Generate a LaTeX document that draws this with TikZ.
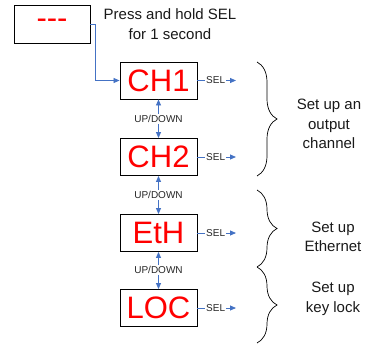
\documentclass[tikz,border=0pt]{standalone}
\usepackage{fontspec}
\setmainfont{Liberation Sans}
\usetikzlibrary{arrows.meta,decorations.pathreplacing}
\definecolor{lblue}{RGB}{68,114,196}
\definecolor{lred}{RGB}{255,0,0}
\begin{document}
\begin{tikzpicture}[x=1pt,y=-1pt,
  dispbox/.style={draw=black,line width=0.9pt,minimum width=77pt,minimum height=37pt,inner sep=0pt,
    text=lred,font=\fontsize{31}{31}\selectfont},
  conn/.style={lblue,line width=0.8pt},
  arr/.style={conn,-{Triangle[length=6pt,width=5pt]}},
  small/.style={font=\fontsize{10}{12}\selectfont,inner sep=1pt,text=black!85},
  big/.style={font=\fontsize{15}{19.5}\selectfont,align=center,text=black!90},
  brc/.style={decorate,decoration={brace,amplitude=20pt},line width=0.7pt}
  ]
\useasboundingbox (0,0) rectangle (367,345);
\node[dispbox,minimum width=76pt,minimum height=38pt] (top) at (52,24) {-{}-{}-};
\node[big] (press) at (170,24) {Press and hold SEL\\for 1 second};
\node[dispbox] (ch1) at (158.5,80.5) {CH1};
\node[dispbox] (ch2) at (158.5,157) {CH2};
\node[dispbox] (eth) at (158.5,233) {EtH};
\node[dispbox] (loc) at (158.5,308) {LOC};
\coordinate (bend1) at (95,24);
\coordinate (bend2) at (95,80.5);
\draw[conn] (top.east) -- (bend1) -- (bend2);
\draw[arr] (bend2) -- (ch1.west);
\foreach \a/\b/\y [count=\i] in {ch1/ch2/119,ch2/eth/195,eth/loc/270}{
  \node[small] (ud\i) at (158.5,\y) {UP/DOWN};
  \draw[arr] (ud\i) -- (\a);
  \draw[arr] (ud\i) -- (\b);
}
\foreach \n/\y in {ch1/80.5,ch2/157,eth/233,loc/308}{
  \node[small,anchor=west] (sel\n) at (205,\y) {SEL};
  \coordinate (end\n) at (236,\y);
  \draw[conn] (\n.east) -- (sel\n.west);
  \draw[arr] (sel\n.east) -- (end\n);
}
\coordinate (b1s) at (257,62);
\coordinate (b1e) at (257,176);
\coordinate (b2s) at (257,190);
\coordinate (b2e) at (257,267);
\coordinate (b3s) at (257,267);
\coordinate (b3e) at (257,343);
\draw[brc] (b1s) -- (b1e);
\draw[brc] (b2s) -- (b2e);
\draw[brc] (b3s) -- (b3e);
\node[big] (t1) at (329,124) {Set up an\\output\\channel};
\node[big] (t2) at (333,237) {Set up\\Ethernet};
\node[big] (t3) at (333,299) {Set up\\key lock};
\end{tikzpicture}
\end{document}
